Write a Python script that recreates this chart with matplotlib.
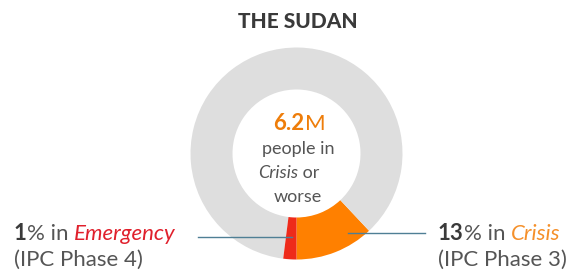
import matplotlib
matplotlib.use("Agg")
import matplotlib.pyplot as plt

# data
title = "THE SUDAN"
slices = [12, 86, 2]          # crisis, rest, emergency (share of ring as drawn)
colors = ["#ff8000", "#dedede", "#ee2a1a"]
total_m = "6.2"
lbl_crisis = ("13", "% in ", "Crisis", "(IPC Phase 3)")
lbl_emerg = ("1", "% in ", "Emergency", "(IPC Phase 4)")

plt.rcParams['font.family'] = ['Lato', 'DejaVu Sans']
W, H = 573, 277
fig = plt.figure(figsize=(W / 100, H / 100), dpi=100)
ax = fig.add_axes([0, 0, 1, 1])

def Y(y):
    return H - y

cx, cy, R = 296.5, 153.5, 106
ax.pie(slices, colors=colors, startangle=-90, counterclock=True,
       center=(cx, Y(cy)), radius=R, wedgeprops=dict(width=42, linewidth=0),
       frame=True)
ax.set_xlim(0, W)
ax.set_ylim(0, H)
ax.set_aspect('equal')
ax.axis('off')

dark = "#3a3a3a"
grey = "#555555"
ax.text(298, Y(21), title, ha='center', va='center', fontsize=15,
        fontweight='black', color=dark)

# centre text
ax.text(304, Y(130), total_m, ha='right', va='baseline', fontsize=16,
        fontweight='bold', color="#ee7d0a")
ax.text(305, Y(130), "M", ha='left', va='baseline', fontsize=16,
        color="#ee7d0a")
ax.text(298, Y(154), "people in", ha='center', va='baseline', fontsize=13, color=grey)
ax.text(298, Y(178), "Crisis", ha='right', va='baseline', fontsize=13,
        style='italic', color=grey)
ax.text(298, Y(178), " or", ha='left', va='baseline', fontsize=13, color=grey)
ax.text(298, Y(202), "worse", ha='center', va='baseline', fontsize=13, color=grey)

# leader lines
ax.plot([198, 292], [Y(237), Y(237)], color="#4f7f95", lw=1)
ax.plot([348, 425], [Y(233), Y(233)], color="#4f7f95", lw=1)

fs = 16
def label(x, y, parts, col):
    a = ax.text(x, Y(y), parts[0], ha='left', va='baseline', fontsize=fs,
                fontweight='bold', color=dark)
    b = ax.annotate(parts[1], xy=(1, 0), xycoords=a, ha='left', va='bottom',
                    fontsize=fs, color=grey)
    ax.annotate(parts[2], xy=(1, 0), xycoords=b, ha='left', va='bottom',
                fontsize=fs, style='italic', color=col)
    ax.text(x, Y(y + 26), parts[3], ha='left', va='baseline', fontsize=fs,
            color=grey)

label(14, 240, lbl_emerg, "#e0202c")
label(438, 240, lbl_crisis, "#f5902a")

fig.savefig("out.png", dpi=100)
